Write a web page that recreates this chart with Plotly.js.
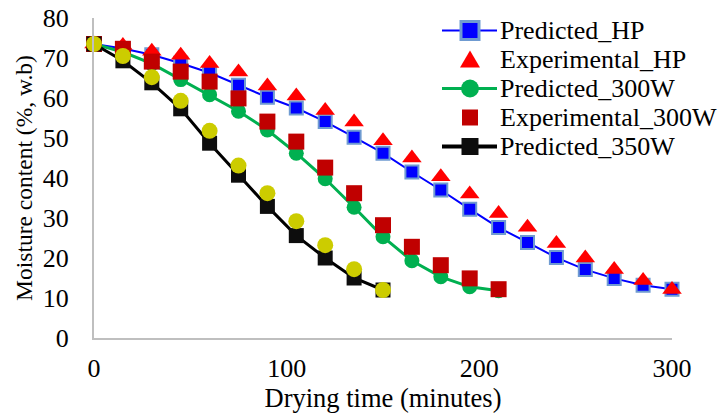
<!DOCTYPE html>
<html>
<head>
<meta charset="utf-8">
<script src="https://cdn.plot.ly/plotly-3.0.1.min.js"></script>
<style>html,body{margin:0;padding:0;background:#fff;}#chart{width:724px;height:415px;}</style>
</head>
<body>
<div id="chart"></div>
<script>
const timeHP = [0,15,30,45,60,75,90,105,120,135,150,165,180,195,210,225,240,255,270,285,300];
const predHP = [73.5,72.4,70.8,68.7,66.3,63.2,60.2,57.5,54.1,50.2,46.2,41.5,37,32.2,27.6,23.9,20.1,17.1,14.9,13.2,12.2];
const expHP  = [73.5,73.1,71.7,70.7,68.6,66.5,63,60.5,56.9,54,49.3,45,40.3,36,31.1,27.7,23.6,20,17.1,14.4,12.1];
const time300 = [0,15,30,45,60,75,90,105,120,135,150,165,180,195,210];
const pred300 = [73.5,71.5,68.6,64.6,60.8,56.7,52,46.2,39.8,32.7,25.3,19.3,15.3,12.8,11.8];
const exp300  = [73.5,72.3,69.1,66.6,64.1,59.9,54.1,49.1,42.6,36.2,28.2,22.8,18.2,14.9,12.2];
const time350 = [0,15,30,45,60,75,90,105,120,135,150];
const pred350 = [73.5,69.3,63.8,57.3,48.7,40.7,32.9,25.6,20,15,12];
const exp350  = [73.5,70.5,65.2,59.3,51.8,43.1,36.2,29.2,23.2,17.2,12];
const legendNames = ['Predicted_HP','Experimental_HP','Predicted_300W','Experimental_300W','Predicted_350W'];

const F = "'Times New Roman', 'Liberation Serif', serif";
const W = 724, H = 415;
const M = {l:94, r:52, t:18, b:77};
const PW = W - M.l - M.r, PH = H - M.t - M.b;
const px2x = p => (p - M.l) / PW;
const px2y = p => (H - M.b - p) / PH;

const styles = [
  {line:{color:'#0000ff', width:2}, marker:{symbol:'square', size:13, color:'#0000ff', line:{color:'#6f9bd1', width:2}}},
  {marker:{symbol:'triangle-up', size:17, color:'#ff0000', line:{width:0}}},
  {line:{color:'#00b050', width:3}, marker:{symbol:'circle', size:15, color:'#00b050', line:{width:0}}},
  {marker:{symbol:'square', size:16, color:'#c00000', line:{width:0}}},
  {line:{color:'#000000', width:3}, marker:{symbol:'square', size:15, color:'#0d0d0d', line:{width:0}}},
  {marker:{symbol:'circle', size:16, color:'#cccc00', line:{width:0}}}
];
const series = [
  [timeHP, predHP, 'Predicted_HP'], [timeHP, expHP, 'Experimental_HP'],
  [time300, pred300, 'Predicted_300W'], [time300, exp300, 'Experimental_300W'],
  [time350, pred350, 'Predicted_350W'], [time350, exp350, 'Experimental_350W']
];
const traces = series.map((s, i) => Object.assign({
  type:'scatter', x:s[0], y:s[1], name:s[2], showlegend:false, cliponaxis:false,
  mode: styles[i].line ? 'lines+markers' : 'markers'
}, styles[i]));

// custom legend (Excel-like tight spacing)
const rowY = i => 30.5 + 29 * i;
const annotations = legendNames.map((n, i) => ({
  xref:'paper', yref:'paper', x:px2x(498), y:px2y(rowY(i)), xanchor:'left', yanchor:'middle',
  text:n, showarrow:false, font:{family:F, size:26, color:'#000'}
}));
const shapes = [];
const symX = px2x(470);
function lineSym(i, color, width){
  shapes.push({type:'line', xref:'paper', yref:'paper', x0:px2x(442), x1:px2x(497), y0:px2y(rowY(i)), y1:px2y(rowY(i)), line:{color:color, width:width}});
}
function rectSym(i, half, fill, lc, lw){
  shapes.push({type:'rect', xref:'paper', yref:'paper', xsizemode:'pixel', ysizemode:'pixel',
    xanchor:symX, yanchor:px2y(rowY(i)), x0:-half, x1:half, y0:-half, y1:half,
    fillcolor:fill, line:{color:lc||fill, width:lw||0}});
}
function circSym(i, r, fill){
  shapes.push({type:'circle', xref:'paper', yref:'paper', xsizemode:'pixel', ysizemode:'pixel',
    xanchor:symX, yanchor:px2y(rowY(i)), x0:-r, x1:r, y0:-r, y1:r, fillcolor:fill, line:{width:0}});
}
function triSym(i, fill){
  shapes.push({type:'path', xref:'paper', yref:'paper', xsizemode:'pixel', ysizemode:'pixel',
    xanchor:symX, yanchor:px2y(rowY(i)), path:'M-10,-8 L10,-8 L0,9 Z', fillcolor:fill, line:{width:0}});
}
lineSym(0, '#0000ff', 2); rectSym(0, 9, '#0000ff', '#6f9bd1', 3);
triSym(1, '#ff0000');
lineSym(2, '#00b050', 3); circSym(2, 9, '#00b050');
rectSym(3, 8, '#c00000');
lineSym(4, '#000000', 4); rectSym(4, 8.5, '#0d0d0d');

const layout = {
  width:W, height:H, margin:M,
  paper_bgcolor:'#ffffff', plot_bgcolor:'#ffffff',
  font:{family:F, size:26, color:'#000'},
  showlegend:false,
  annotations: annotations, shapes: shapes,
  xaxis:{range:[0,300], tickvals:[0,100,200,300], showgrid:false, zeroline:false,
         showline:true, linecolor:'#bfbfbf', linewidth:2, ticks:'', ticklabelstandoff:6,
         tickfont:{family:F, size:26, color:'#000'},
         title:{text:'Drying time (minutes)', font:{family:F, size:26.5, color:'#000'}, standoff:2}},
  yaxis:{range:[0,80], dtick:10, showgrid:false, zeroline:false,
         showline:true, linecolor:'#bfbfbf', linewidth:2,
         ticks:'outside', ticklen:18, tickcolor:'rgba(0,0,0,0)',
         tickfont:{family:F, size:26, color:'#000'},
         title:{text:'Moisture content (%, w.b)', font:{family:F, size:23.5, color:'#000'}, standoff:4}}
};

Plotly.newPlot('chart', traces, layout, {displayModeBar:false, staticPlot:true});
</script>
</body>
</html>
